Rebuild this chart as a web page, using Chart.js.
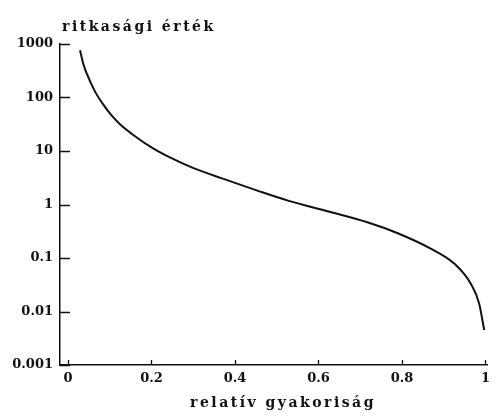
<!DOCTYPE html>
<html><head><meta charset="utf-8">
<script src="https://cdn.jsdelivr.net/npm/chart.js@4/dist/chart.umd.min.js"></script>
<style>html,body{margin:0;padding:0;background:#fff}</style>
</head><body>
<canvas id="c" width="496" height="416"></canvas>
<script>
const freq = [0.029,0.0365,0.045,0.064,0.084,0.104,0.124,0.164,0.203,0.243,0.298,0.378,0.457,0.529,0.624,0.719,0.79,0.87,0.925,0.965,0.985,0.997];
const rarity = [766,432,281,133,75,46.7,32.1,18.1,11.3,7.66,4.88,2.91,1.78,1.17,0.74,0.46,0.29,0.148,0.079,0.033,0.014,0.0045];
const xTicks = [0,0.2,0.4,0.6,0.8,1];
const yTicks = [1000,100,10,1,0.1,0.01,0.001];
const xTitle = 'relatív gyakoriság';
const yTitle = 'ritkasági érték';

const FONT = 'DejaVu Serif';
const INK = '#111';

const decor = {
  id: 'decor',
  afterDraw(chart) {
    const ctx = chart.ctx, xs = chart.scales.x, ys = chart.scales.y;
    const a = chart.chartArea;
    ctx.save();
    ctx.strokeStyle = INK; ctx.lineWidth = 1.3;
    ctx.beginPath();
    yTicks.forEach(v => { const y = Math.round(ys.getPixelForValue(v)) + 0.5; ctx.moveTo(a.left, y); ctx.lineTo(a.left + 10, y); });
    xTicks.forEach(v => { const x = Math.round(xs.getPixelForValue(v)) + 0.5; ctx.moveTo(x, a.bottom); ctx.lineTo(x, a.bottom - 5); });
    ctx.stroke();
    ctx.fillStyle = INK;
    ctx.font = 'bold 14px "' + FONT + '"';
    ctx.letterSpacing = '2.5px';
    ctx.textBaseline = 'middle';
    ctx.textAlign = 'left';
    ctx.fillText(yTitle, a.left + 2, 27);
    ctx.textAlign = 'center';
    ctx.fillText(xTitle, 283, 403);
    ctx.restore();
  }
};

new Chart(document.getElementById('c'), {
  type: 'line',
  data: {
    datasets: [{
      data: freq.map((f, i) => ({x: f, y: rarity[i]})),
      borderColor: INK,
      borderWidth: 2,
      pointRadius: 0,
      cubicInterpolationMode: 'monotone',
      fill: false
    }]
  },
  options: {
    responsive: false,
    animation: false,
    devicePixelRatio: 1,
    layout: {padding: {top: 44, right: 6, left: 0, bottom: 0}},
    plugins: {legend: {display: false}, tooltip: {enabled: false}, title: {display: false}},
    scales: {
      x: {
        type: 'linear', min: -0.019, max: 1.005,
        afterBuildTicks: s => { s.ticks = xTicks.map(v => ({value: v})); },
        afterFit: s => { s.height = 51; },
        grid: {display: false, drawTicks: false},
        border: {display: true, color: INK, width: 1.5},
        ticks: {padding: 6, color: INK, font: {family: FONT, size: 13, weight: 'bold'}, maxRotation: 0, autoSkip: false,
          callback: v => String(v)}
      },
      y: {
        type: 'logarithmic', min: 0.001, max: 1000,
        afterBuildTicks: s => { s.ticks = yTicks.map(v => ({value: v})); },
        afterFit: s => { s.width = 60; },
        grid: {display: false, drawTicks: false},
        border: {display: true, color: INK, width: 1.5},
        ticks: {padding: 7, color: INK, font: {family: FONT, size: 13, weight: 'bold'}, autoSkip: false,
          callback: v => String(v)}
      }
    }
  },
  plugins: [decor]
});
</script>
</body></html>
